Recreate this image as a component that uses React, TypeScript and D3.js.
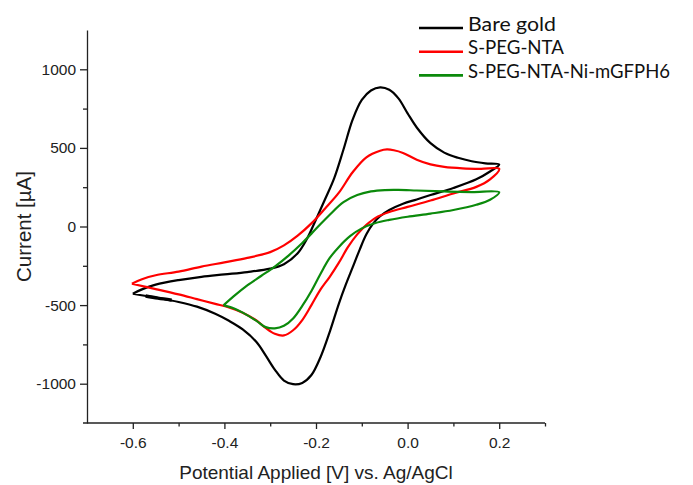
import React, { useEffect, useRef } from 'react';
import * as d3 from 'd3';

// axis ticks
const xTicks = [-0.6, -0.4, -0.2, 0.0, 0.2];
const xMinor = [-0.5, -0.3, -0.1, 0.1, 0.3];
const yTicks = [-1000, -500, 0, 500, 1000];
const yMinor = [-750, -250, 250, 750];

// Bare gold, one full scan: forward -0.6 -> 0.2 then back (V, uA)
const bareE = [-0.6, -0.58, -0.55, -0.5, -0.45, -0.4, -0.35, -0.3, -0.27, -0.24, -0.22, -0.2, -0.18, -0.16, -0.14, -0.12, -0.1, -0.08, -0.06, -0.04, -0.02, 0.0, 0.02, 0.05, 0.08, 0.11, 0.14, 0.17, 0.2,
  0.18, 0.15, 0.1, 0.05, 0.02, -0.01, -0.04, -0.06, -0.075, -0.09, -0.105, -0.12, -0.135, -0.15, -0.17, -0.19, -0.21, -0.23, -0.25, -0.27, -0.29, -0.31, -0.33, -0.36, -0.39, -0.42, -0.46, -0.5, -0.55, -0.6];
const bareI = [-428, -400, -370, -341, -320, -305, -290, -268, -240, -170, -80, 45, 175, 310, 490, 680, 805, 865, 885, 870, 815, 720, 630, 530, 470, 437, 415, 402, 394,
  350, 300, 245, 200, 172, 145, 105, 65, 20, -50, -150, -260, -370, -490, -670, -830, -945, -995, -1003, -980, -910, -820, -735, -655, -600, -555, -510, -480, -452, -428];

// S-PEG-NTA
const pegE = [-0.602, -0.58, -0.55, -0.5, -0.45, -0.4, -0.35, -0.3, -0.27, -0.24, -0.21, -0.18, -0.15, -0.12, -0.09, -0.06, -0.045, -0.03, -0.01, 0.02, 0.05, 0.08, 0.12, 0.16, 0.2,
  0.18, 0.15, 0.1, 0.05, 0.0, -0.04, -0.07, -0.09, -0.11, -0.13, -0.15, -0.17, -0.19, -0.21, -0.23, -0.25, -0.27, -0.29, -0.31, -0.33, -0.36, -0.39, -0.42, -0.46, -0.5, -0.55, -0.602];
const pegI = [-364, -335, -310, -287, -255, -228, -200, -163, -120, -58, 20, 115, 215, 345, 440, 482, 490, 485, 468, 425, 395, 379, 370, 367, 367,
  300, 252, 210, 165, 125, 92, 55, 10, -50, -130, -230, -320, -400, -500, -595, -660, -693, -682, -645, -598, -548, -515, -492, -462, -432, -398, -364];

// S-PEG-NTA-Ni-mGFPH6, scan starts at -0.4 V
const niE = [-0.402, -0.38, -0.35, -0.32, -0.29, -0.26, -0.23, -0.2, -0.17, -0.14, -0.11, -0.08, -0.05, -0.02, 0.02, 0.08, 0.14, 0.2,
  0.18, 0.15, 0.1, 0.05, 0.0, -0.04, -0.07, -0.1, -0.125, -0.15, -0.17, -0.19, -0.21, -0.23, -0.25, -0.27, -0.29, -0.31, -0.33, -0.36, -0.38, -0.402];
const niI = [-502, -445, -375, -315, -255, -185, -105, -15, 75, 155, 200, 223, 232, 233, 229, 223, 219, 218,
  170, 138, 105, 82, 62, 42, 22, -12, -60, -130, -200, -300, -410, -505, -585, -632, -648, -640, -600, -548, -520, -502];

const legendLabels = ['Bare gold', 'S-PEG-NTA', 'S-PEG-NTA-Ni-mGFPH6'];
const legendWidths = [88, 96, 202];
const colors = ['#000000', '#ff0000', '#0b8a0b'];

export default function App() {
  const ref = useRef<SVGSVGElement>(null);

  useEffect(() => {
    const svg = d3.select(ref.current);
    svg.selectAll('*').remove();

    const x = d3.scaleLinear().domain([-0.7, 0.3]).range([87, 545]);
    const y = d3.scaleLinear().domain([-1250, 1250]).range([423, 30]);
    const axisFont = "'Liberation Sans', Arial, sans-serif";

    // minor ticks first so the major axis draws on top
    svg.append('g').attr('transform', 'translate(0,423)')
      .call(d3.axisBottom(x).tickValues(xMinor).tickSize(3.5).tickSizeOuter(0).tickFormat(() => ''))
      .call(g => g.select('.domain').remove());
    svg.append('g').attr('transform', 'translate(87,0)')
      .call(d3.axisLeft(y).tickValues(yMinor).tickSize(4).tickSizeOuter(0).tickFormat(() => ''))
      .call(g => g.select('.domain').remove());

    const xAxis = svg.append('g').attr('transform', 'translate(0,423)')
      .call(d3.axisBottom(x).tickValues(xTicks).tickSize(6).tickSizeOuter(0).tickPadding(8)
        .tickFormat(d => (+d).toFixed(1)));
    const yAxis = svg.append('g').attr('transform', 'translate(87,0)')
      .call(d3.axisLeft(y).tickValues(yTicks).tickSize(7).tickSizeOuter(0).tickPadding(4)
        .tickFormat(d => String(d)));

    svg.selectAll('.tick line, .domain').attr('stroke', '#222').attr('stroke-width', 1.3);
    [xAxis, yAxis].forEach(a => a.selectAll('text')
      .attr('font-family', axisFont).attr('font-size', 15.5).attr('fill', '#222'));
    // little overhang where the axes meet
    xAxis.select('.domain').attr('d', `M83,0H${x(0.3)}`);

    svg.append('text')
      .attr('x', (x(-0.7) + x(0.3)) / 2).attr('y', 479)
      .attr('text-anchor', 'middle')
      .attr('font-family', axisFont).attr('font-size', 19).attr('fill', '#222')
      .text('Potential Applied [V] vs. Ag/AgCl');
    svg.append('text')
      .attr('transform', `translate(31,${(y(-1250) + y(1250)) / 2}) rotate(-90)`)
      .attr('text-anchor', 'middle')
      .attr('font-family', axisFont).attr('font-size', 20.5).attr('fill', '#222')
      .text('Current [µA]');

    const line = d3.line<[number, number]>()
      .x(d => x(d[0])).y(d => y(d[1]))
      .curve(d3.curveCatmullRom.alpha(0.5));

    const series = [
      d3.zip(bareE, bareI),
      d3.zip(pegE, pegI),
      d3.zip(niE, niI),
    ];
    series.forEach((pts, i) => {
      svg.append('path')
        .attr('d', line(pts as [number, number][]))
        .attr('fill', 'none').attr('stroke', colors[i])
        .attr('stroke-width', 2.2).attr('stroke-linejoin', 'round');
    });

    // scan start marker on the bare gold trace
    svg.append('path')
      .attr('d', line([[-0.572, -442], [-0.545, -456], [-0.515, -468]]))
      .attr('fill', 'none').attr('stroke', '#000').attr('stroke-width', 3.4);

    const legend = svg.append('g');
    legendLabels.forEach((label, i) => {
      const ly = 28 + i * 23.7;
      legend.append('line')
        .attr('x1', 419).attr('x2', 463).attr('y1', ly).attr('y2', ly)
        .attr('stroke', colors[i]).attr('stroke-width', 2.6);
      legend.append('text')
        .attr('x', 468).attr('y', ly + 2.5)
        .attr('font-family', "Lato, 'Open Sans', sans-serif").attr('font-size', 19.5)
        .attr('textLength', legendWidths[i]).attr('lengthAdjust', 'spacingAndGlyphs')
        .attr('fill', '#111')
        .text(label);
    });
  }, []);

  return (
    <svg ref={ref} width={693} height={485}
      style={{ position: 'absolute', left: 0, top: 0, background: '#fff' }} />
  );
}
